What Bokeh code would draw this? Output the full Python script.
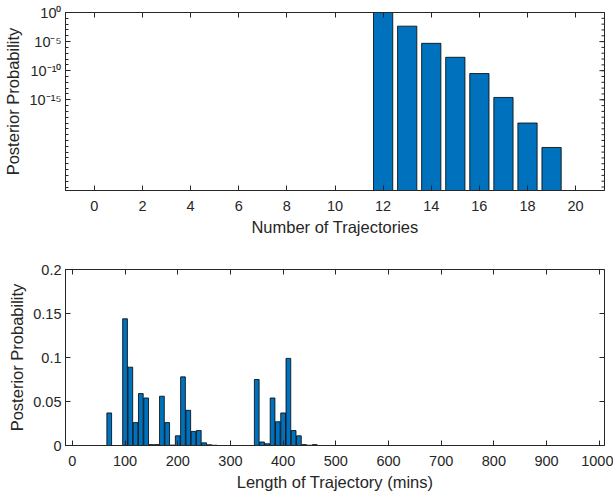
from bokeh.plotting import figure
from bokeh.layouts import column
from bokeh.models import (Range1d, FixedTicker, LinearAxis, CustomJSTickFormatter,
                          ColumnDataSource)
from bokeh.embed import file_html
from bokeh.resources import INLINE

# ---- data: top panel (number of trajectories) ----
num_traj = [12, 13, 14, 15, 16, 17, 18, 19]
num_prob = [1.0, 4.5e-3, 5.0e-6, 2.0e-8, 3.2e-11, 2.5e-15, 1.0e-19, 6.3e-24]
num_xticks = [0, 2, 4, 6, 8, 10, 12, 14, 16, 18, 20]
num_yticks = [1.0, 1e-5, 1e-10, 1e-15]

# ---- data: bottom panel (length of trajectory) ----
length_mins = [0, 10, 20, 30, 40, 50, 60, 70, 80, 90,
               100, 110, 120, 130, 140, 150, 160, 170, 180, 190,
               200, 210, 220, 230, 240, 250, 260, 270, 280, 290,
               300, 310, 320, 330, 340, 350, 360, 370, 380, 390,
               400, 410, 420, 430, 440, 450, 460, 470, 480, 490, 500]
length_prob = [0, 0, 0, 0, 0, 0, 0, 0.037, 0, 0,
               0.144, 0.089, 0.026, 0.059, 0.054, 0.001, 0.001, 0.056, 0.026, 0.0005,
               0.011, 0.078, 0.040, 0.016, 0.017, 0.003, 0.0008, 0.0003, 0, 0,
               0, 0, 0, 0, 0, 0.075, 0.004, 0.002, 0.054, 0.027,
               0.037, 0.099, 0.017, 0.011, 0.001, 0.0003, 0.001, 0, 0, 0, 0]
len_xticks = [0, 100, 200, 300, 400, 500, 600, 700, 800, 900, 1000]
len_yticks = [0, 0.05, 0.1, 0.15, 0.2]
len_ylabels = ["0", "0.05", "0.1", "0.15", "0.2"]

BAR = "#0072BD"
INK = "#262626"
FONT = "Liberation Sans"
TICK_FS = "14.5px"
LAB_FS = "16.5px"

blank_fmt = CustomJSTickFormatter(code="return '';")


def style_axis(ax, label=True):
    ax.axis_line_color = INK
    ax.major_tick_line_color = INK
    ax.minor_tick_line_color = INK
    ax.major_tick_in = 5
    ax.major_tick_out = 0
    ax.minor_tick_in = 3
    ax.minor_tick_out = 0
    ax.major_label_text_font = FONT
    ax.major_label_text_font_size = TICK_FS
    ax.major_label_text_color = INK
    ax.axis_label_text_font = FONT
    ax.axis_label_text_font_size = LAB_FS
    ax.axis_label_text_font_style = "normal"
    ax.axis_label_text_color = INK
    if not label:
        ax.formatter = blank_fmt
        ax.major_label_standoff = 0


sup_fmt = CustomJSTickFormatter(code="""
const sup = {'0':'\u2070','1':'\u00b9','2':'\u00b2','3':'\u00b3','4':'\u2074','5':'\u2075',
             '6':'\u2076','7':'\u2077','8':'\u2078','9':'\u2079','-':'\u207b'};
const e = Math.round(Math.log10(tick));
return '10' + String(e).split('').map(c => sup[c]).join('');
""")

lin_fmt = CustomJSTickFormatter(args=dict(vals=len_yticks, labs=len_ylabels), code="""
for (let i = 0; i < vals.length; i++) { if (Math.abs(tick - vals[i]) < 1e-9) return labs[i]; }
return '';
""")


def right_ticks(p, xr, ticks, length):
    # inward tick marks on the right frame edge (mirrors the left axis)
    x_end = xr.end
    p.segment(x0=[x_end] * len(ticks), x1=[x_end - length] * len(ticks),
              y0=ticks, y1=ticks, line_color=INK, line_width=1)


# ---------------- top figure ----------------
xr1 = Range1d(-1.2, 21.2)
p1 = figure(width=613, height=248, y_axis_type="log",
            x_range=xr1, y_range=Range1d(10 ** -30.6, 1.0),
            output_backend="svg", toolbar_location=None,
            min_border_left=64, min_border_right=9, min_border_top=12, min_border_bottom=58)
src1 = ColumnDataSource(dict(x=num_traj, top=num_prob))
p1.vbar(x="x", top="top", bottom=1e-40, width=0.8, source=src1,
        fill_color=BAR, line_color="black", line_width=0.8)
p1.xgrid.visible = False
p1.ygrid.visible = False
p1.outline_line_color = INK

minor_decades = [10.0 ** (-k) for k in range(0, 31)]
xt = FixedTicker(ticks=num_xticks, minor_ticks=[])
yt = FixedTicker(ticks=num_yticks, minor_ticks=minor_decades)
p1.xaxis.ticker = xt
p1.yaxis.ticker = yt
p1.yaxis.formatter = sup_fmt
p1.xaxis.axis_label = "Number of Trajectories"
p1.yaxis.axis_label = "Posterior Probability"
style_axis(p1.xaxis[0])
style_axis(p1.yaxis[0])
p1.xaxis.major_label_standoff = 10
p1.xaxis.axis_label_standoff = 4
p1.yaxis.major_label_standoff = 4
p1.yaxis.axis_label_standoff = 5
ax_top = LinearAxis(ticker=xt)
style_axis(ax_top, label=False)
p1.add_layout(ax_top, "above")
right_ticks(p1, xr1, minor_decades, 0.125)
right_ticks(p1, xr1, num_yticks, 0.21)

# ---------------- bottom figure ----------------
xr2 = Range1d(-13, 1010)
p2 = figure(width=613, height=245,
            x_range=xr2, y_range=Range1d(0, 0.2),
            output_backend="svg", toolbar_location=None,
            min_border_left=64, min_border_right=9, min_border_top=21, min_border_bottom=47)
src2 = ColumnDataSource(dict(x=length_mins, top=length_prob))
p2.vbar(x="x", top="top", bottom=0, width=9, source=src2,
        fill_color=BAR, line_color="black", line_width=0.8)
p2.xgrid.visible = False
p2.ygrid.visible = False
p2.outline_line_color = INK

xt2 = FixedTicker(ticks=len_xticks, minor_ticks=[])
yt2 = FixedTicker(ticks=len_yticks, minor_ticks=[])
p2.xaxis.ticker = xt2
p2.yaxis.ticker = yt2
p2.yaxis.formatter = lin_fmt
p2.xaxis.axis_label = "Length of Trajectory (mins)"
p2.yaxis.axis_label = "Posterior Probability"
style_axis(p2.xaxis[0])
style_axis(p2.yaxis[0])
p2.xaxis.major_label_standoff = 10
p2.xaxis.axis_label_standoff = 4
p2.yaxis.major_label_standoff = 4
p2.yaxis.axis_label_standoff = 4
ax_top2 = LinearAxis(ticker=xt2)
style_axis(ax_top2, label=False)
p2.add_layout(ax_top2, "above")
right_ticks(p2, xr2, len_yticks, 9.5)

layout = column(p1, p2, spacing=0)

open("out.html", "w").write(file_html(layout, INLINE))
